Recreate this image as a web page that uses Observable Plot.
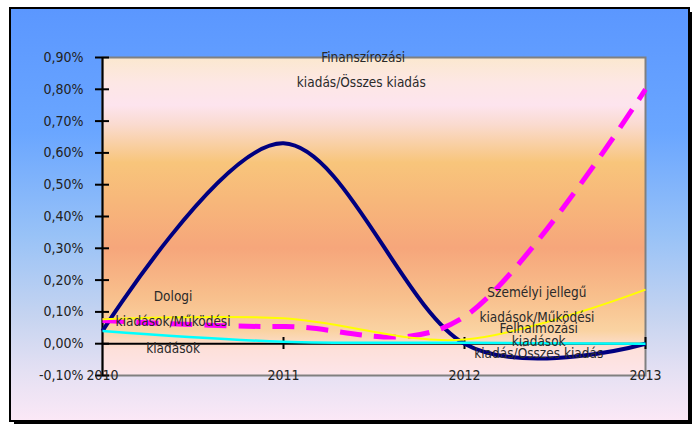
<!DOCTYPE html>
<html>
<head>
<meta charset="utf-8">
<script src="https://cdn.jsdelivr.net/npm/d3@7"></script>
<script src="https://cdn.jsdelivr.net/npm/@observablehq/plot@0.6"></script>
<style>
  html, body { margin: 0; padding: 0; background: #fff; }
  #wrap { position: relative; width: 697px; height: 425px; overflow: hidden; }
  #shadow { position: absolute; left: 14px; top: 12px; width: 675px; height: 409px;
            border-right: 3px solid #000; border-bottom: 3px solid #000; }
  #panel { position: absolute; left: 9px; top: 7px; width: 677px; height: 411px;
           border: 2px solid #000;
           background: linear-gradient(to bottom, #5b97ff 0%, #6aa6ff 30%, #98c2f7 55%, #c6d4f0 75%, #e4e0f3 88%, #fbe8f6 100%); }
  #chart { position: absolute; left: 0; top: 0; }
</style>
</head>
<body>
<div id="wrap">
  <div id="shadow"></div>
  <div id="panel"></div>
  <div id="chart"></div>
</div>
<script>
// Shares in percent, yearly
const years = [2010, 2011, 2012, 2013];
const finanszirozasi = [0.04, 0.63, 0.00, 0.00];   // Finanszírozási kiadás / Összes kiadás
const szemelyi = [0.073, 0.054, 0.085, 0.80];      // Személyi jellegű kiadások / Működési kiadások
const dologi = [0.077, 0.08, 0.013, 0.17];         // Dologi kiadások / Működési kiadások
const felhalmozasi = [0.04, 0.006, 0.003, 0.0];    // Felhalmozási kiadások / Összes kiadás

const yTicks = [-0.1, 0, 0.1, 0.2, 0.3, 0.4, 0.5, 0.6, 0.7, 0.8, 0.9];

// Series labels, placed in data coordinates, one entry per text line
const labelText = [
  "Finanszírozási", "kiadás/Összes kiadás",
  "Dologi", "kiadások/Működési", "kiadások",
  "Személyi jellegű", "kiadások/Működési",
  "Felhalmozási", "kiadások", "kiadás/Összes kiadás"
];
const labelX = [2011.44, 2011.43, 2010.39, 2010.39, 2010.39, 2012.40, 2012.40, 2012.41, 2012.41, 2012.41];
const labelY = [0.90, 0.82, 0.148, 0.069, -0.016, 0.160, 0.082, 0.047, 0.006, -0.031];

const series = [
  {name: "Finanszírozási", values: finanszirozasi, stroke: "#000080", width: 4, dash: null},
  {name: "Személyi", values: szemelyi, stroke: "#ff00ff", width: 5, dash: "22,12"},
  {name: "Dologi", values: dologi, stroke: "#ffff00", width: 2, dash: null},
  {name: "Felhalmozási", values: felhalmozasi, stroke: "#00ffff", width: 2.5, dash: null}
];

const labels = labelText.map((t, i) => ({text: t, x: labelX[i], y: labelY[i]}));
const fmt = d => d.toFixed(2).replace(".", ",") + "%";
const font = "'Liberation Sans Narrow', 'Arial Narrow', 'DejaVu Sans Condensed', sans-serif";

const lineMarks = series.map(s => Plot.line(years.map((x, i) => ({x, y: s.values[i]})), {
  x: "x", y: "y", stroke: s.stroke, strokeWidth: s.width,
  strokeDasharray: s.dash, curve: "cardinal", strokeLinecap: "butt", strokeLinejoin: "round"
}));

const chart = Plot.plot({
  width: 697,
  height: 425,
  marginLeft: 102,
  marginRight: 52,
  marginTop: 57,
  marginBottom: 50,
  style: {background: "transparent", fontFamily: font, fontSize: "14px", color: "#222", overflow: "visible"},
  x: {domain: [2010, 2013]},
  y: {domain: [-0.1, 0.9]},
  marks: [
    Plot.frame({fill: "url(#plotbg)", stroke: "#808080", strokeWidth: 2}),
    Plot.ruleY([0], {stroke: "#000", strokeWidth: 2}),
    Plot.ruleX([2010], {stroke: "#000", strokeWidth: 2}),
    Plot.axisY({ticks: yTicks, tickFormat: fmt, tickSize: 14, dx: 7, tickPadding: 12,
                stroke: "#000", strokeWidth: 2, fill: "#222", fontSize: 14, label: null}),
    Plot.axisX({ticks: years, tickFormat: d => String(d), tickSize: 0, tickPadding: -5,
                fill: "#222", fontSize: 14, label: null}),
    Plot.axisX({ticks: years.slice(1), tickFormat: () => "", tickSize: 12, dy: -38,
                stroke: "#000", strokeWidth: 2, label: null}),
    ...lineMarks,
    Plot.text(labels, {x: "x", y: "y", text: "text", fill: "#2a2a2a", fontSize: 13.5})
  ]
});

// Vertical colour bands of the plotting area
const svg = d3.select(chart);
const grad = svg.insert("defs", ":first-child").append("linearGradient")
  .attr("id", "plotbg").attr("x1", 0).attr("y1", 0).attr("x2", 0).attr("y2", 1);
[
  [0, "#fbe8cf"], [0.08, "#fde7e5"], [0.15, "#fde4ee"], [0.21, "#fadbd0"],
  [0.33, "#f8c57b"], [0.45, "#f7b77a"], [0.6, "#f6a67b"], [0.75, "#f8bf8c"],
  [0.86, "#fad3a2"], [0.92, "#fde0da"], [1, "#fde5ea"]
].forEach(([o, c]) => grad.append("stop").attr("offset", o).attr("stop-color", c));

document.getElementById("chart").appendChild(chart);
</script>
</body>
</html>
